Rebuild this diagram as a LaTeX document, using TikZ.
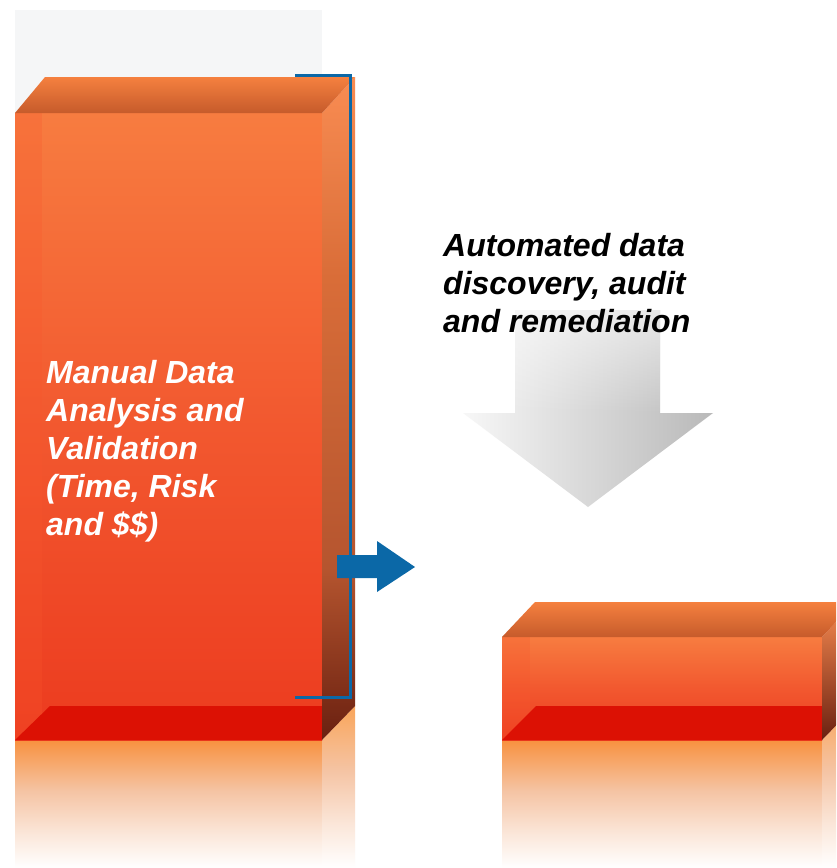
\documentclass[tikz,border=0pt]{standalone}
\usepackage{fontspec}
\setmainfont{Liberation Sans}
\usetikzlibrary{fadings}
\definecolor{bggray}{HTML}{F5F6F7}
\definecolor{frontTop}{HTML}{F77C40}
\definecolor{frontMid}{HTML}{F2582F}
\definecolor{frontBot}{HTML}{EC3B1F}
\definecolor{topBack}{HTML}{F5803F}
\definecolor{topFront}{HTML}{C65B2B}
\definecolor{sideTop}{HTML}{F98C52}
\definecolor{sideMid}{HTML}{B5552F}
\definecolor{sideBot}{HTML}{6A2010}
\definecolor{redBand}{HTML}{DC1104}
\definecolor{reflTop}{HTML}{F8913F}
\definecolor{reflMid}{HTML}{F5C4A4}
\definecolor{reflSide}{HTML}{F9A55A}
\definecolor{bracketBlue}{HTML}{0B68A7}
\definecolor{arrowLight}{HTML}{F7F7F7}
\definecolor{arrowDark}{HTML}{B9B9B9}
% TikZ maps a path onto the 25bp..75bp part of a 100bp shading
\pgfdeclareverticalshading{reflshade}{100bp}{color(0bp)=(white); color(25bp)=(white); color(38bp)=(white!60!reflMid); color(55bp)=(reflMid); color(75bp)=(reflTop); color(100bp)=(reflTop)}
\pgfdeclareverticalshading{reflsideshade}{100bp}{color(0bp)=(white); color(25bp)=(white); color(38bp)=(white!60!reflMid); color(55bp)=(reflMid); color(75bp)=(reflSide); color(100bp)=(reflSide)}
\pgfdeclareverticalshading{sideshade}{100bp}{color(0bp)=(sideBot); color(25bp)=(sideBot); color(38bp)=(sideMid); color(60bp)=(frontTop!88!black); color(75bp)=(sideTop); color(100bp)=(sideTop)}
\tikzfading[name=fadetop, top color=transparent!0, bottom color=transparent!100]
\tikzset{
  frontface/.style={top color=frontTop, bottom color=frontBot, middle color=frontMid},
  topface/.style={top color=topBack, bottom color=topFront},
  sideface/.style={shading=sideshade},
  band/.style={fill=redBand},
  refl/.style={shading=reflshade},
  reflside/.style={shading=reflsideshade},
  bracket/.style={draw=bracketBlue, line width=3pt},
  bluearrow/.style={fill=bracketBlue},
  grayarrow/.style={left color=arrowLight, right color=arrowDark},
  whitelabel/.style={text=white, font=\fontsize{32}{38}\selectfont\bfseries\itshape, align=left, inner sep=0pt, anchor=north west},
  blacklabel/.style={text=black, font=\fontsize{32}{38}\selectfont\bfseries\itshape, align=left, inner sep=0pt, anchor=north west}
}
\begin{document}
\begin{tikzpicture}[x=1pt,y=-1pt]
\useasboundingbox (0,0) rectangle (836,868);
\fill[white] (0,0) rectangle (836,868);
\clip (0,0) rectangle (836,868);
% ---------- left bar ----------
\fill[bggray] (15,10) rectangle (322,113);
\shade[refl] (15,740) rectangle (322,868);
\shade[reflside] (322,740) -- (355,706) -- (355,868) -- (322,868) -- cycle;
\shade[frontface] (15,113) rectangle (322,740);
\fill[frontTop!70!red, opacity=0.25] (15,113) rectangle (42,740);
\fill[band] (15,740) -- (50,706) -- (322,706) -- (322,740) -- cycle;
\shade[sideface] (322,113) -- (355,77) -- (355,706) -- (322,740) -- cycle;
\shade[topface] (15,113) -- (45,77) -- (355,77) -- (322,113) -- cycle;
% bracket
\coordinate (bA) at (295,75);
\coordinate (bB) at (350,75);
\coordinate (bC) at (350,697);
\coordinate (bD) at (295,697);
\draw[bracket] (bA) -- (bB) -- (bC) -- (bD);
% blue arrow
\fill[bluearrow] (337,555) -- (377,555) -- (377,541) -- (415,567) -- (377,592) -- (377,578) -- (337,578) -- cycle;
% ---------- right box ----------
\shade[refl] (502,740) rectangle (822,868);
\shade[reflside] (822,740) -- (855,706) -- (855,868) -- (822,868) -- cycle;
\shade[frontface] (502,637) rectangle (822,740);
\fill[frontTop!70!red, opacity=0.25] (502,637) rectangle (530,740);
\fill[band] (502,740) -- (536,706) -- (822,706) -- (822,740) -- cycle;
\shade[top color=sideTop, bottom color=sideBot] (822,637) -- (855,602) -- (855,706) -- (822,740) -- cycle;
\shade[topface] (502,637) -- (535,602) -- (855,602) -- (822,637) -- cycle;
% ---------- gray arrow ----------
\shade[grayarrow] (515,310) -- (660,310) -- (660,413) -- (713,413) -- (588,507) -- (463,413) -- (515,413) -- cycle;
\fill[white, opacity=0.6, path fading=fadetop] (515,310) rectangle (660,413);
% ---------- labels ----------
\node[whitelabel] (manual) at (46,360) {Manual Data\\Analysis and\\Validation\\(Time, Risk\\and \$\$)};
\node[blacklabel] (auto) at (443,233) {Automated data\\discovery, audit\\and remediation};
\end{tikzpicture}
\end{document}
